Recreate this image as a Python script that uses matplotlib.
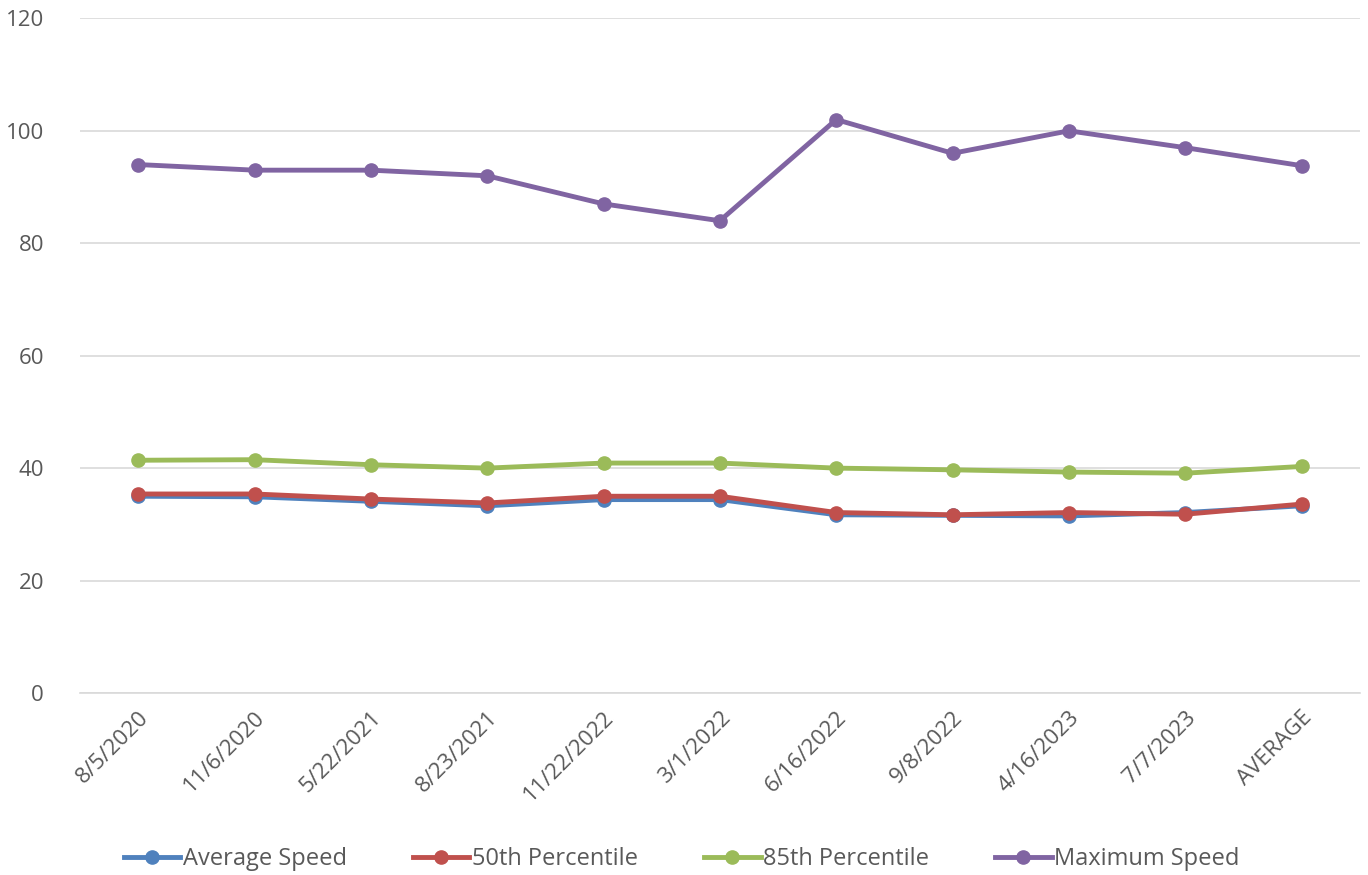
import matplotlib.pyplot as plt

dates = ["8/5/2020", "11/6/2020", "5/22/2021", "8/23/2021", "11/22/2022", "3/1/2022",
         "6/16/2022", "9/8/2022", "4/16/2023", "7/7/2023", "AVERAGE"]

avg_speed = [35.0, 34.9, 34.1, 33.3, 34.4, 34.4, 31.7, 31.6, 31.5, 32.1, 33.3]
pct50 = [35.4, 35.4, 34.5, 33.8, 35.0, 35.0, 32.1, 31.7, 32.1, 31.8, 33.6]
pct85 = [41.4, 41.5, 40.6, 40.0, 40.9, 40.9, 40.0, 39.7, 39.3, 39.1, 40.3]
max_speed = [94, 93, 93, 92, 87, 84, 102, 96, 100, 97, 93.8]

series = [
    ("Average Speed", avg_speed, "#4F81BD"),
    ("50th Percentile", pct50, "#C0504D"),
    ("85th Percentile", pct85, "#9BBB59"),
    ("Maximum Speed", max_speed, "#8064A2"),
]

plt.rcParams['font.family'] = ['Open Sans', 'DejaVu Sans']

fig = plt.figure(figsize=(13.68, 8.75), dpi=100)
ax = fig.add_axes([0.0585, 0.208, 0.9355, 0.771])

x = list(range(len(dates)))
for name, vals, col in series:
    ax.plot(x, vals, color=col, lw=3.5, marker="o", markersize=9.5, label=name)

ax.set_xlim(-0.5, len(dates) - 0.5)
ax.set_ylim(0, 120)
ax.set_yticks(range(0, 121, 20))
ax.set_xticks(x)
ax.set_xticklabels(dates, rotation=45, ha="right", rotation_mode="anchor")
ax.tick_params(axis="both", length=0, labelsize=16, colors="#595959")
ax.tick_params(axis="y", pad=26)
ax.tick_params(axis="x", pad=10)
ax.grid(axis="y", color="#D9D9D9", lw=1.2)
ax.set_axisbelow(True)
for s in ["top", "right", "left"]:
    ax.spines[s].set_visible(False)
ax.spines["bottom"].set_color("#D9D9D9")
ax.spines["bottom"].set_linewidth(1.2)

ax.legend(loc="lower center", bbox_to_anchor=(0.47, -0.295), ncol=4, frameon=False,
          fontsize=17, labelcolor="#595959", handlelength=2.4, handletextpad=0.1,
          columnspacing=2.8)

fig.savefig("out.png", dpi=100)
